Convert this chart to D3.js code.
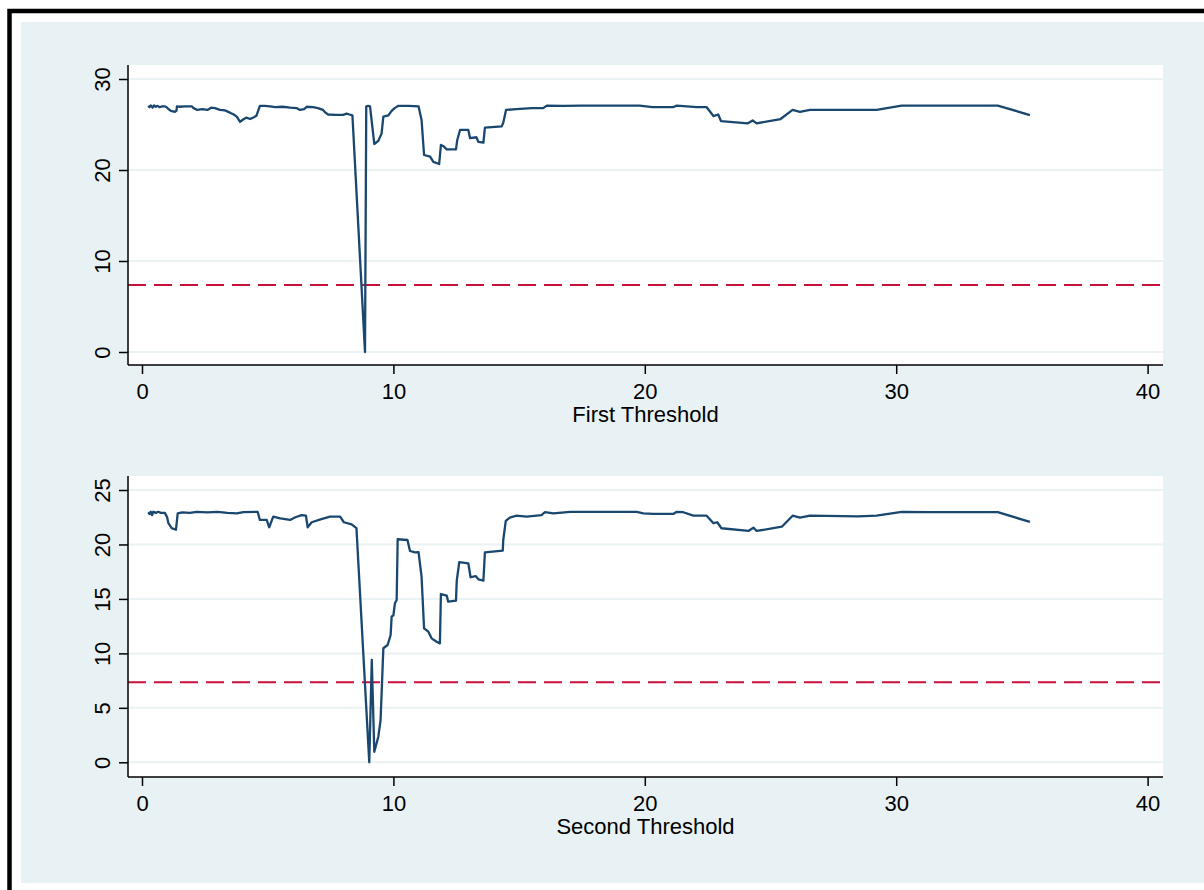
<!DOCTYPE html>
<html>
<head>
<meta charset="utf-8">
<script src="https://cdn.jsdelivr.net/npm/d3@7"></script>
<style>
  body { margin: 0; background: #ffffff; }
  text { font-family: Arial, "Liberation Sans", sans-serif; fill: #000; }
</style>
</head>
<body>
<div id="chart"></div>
<script>
// first panel: x, value
const firstX = [0.25, 0.3, 0.35, 0.42, 0.48, 0.55, 0.62, 0.7, 0.8, 0.9, 0.98, 1.05, 1.15, 1.31, 1.37, 1.39, 1.5, 1.7, 1.98,
  2.05, 2.2, 2.4, 2.6, 2.75, 2.9, 3.1, 3.3, 3.5, 3.65, 3.77, 3.9, 4.05, 4.15, 4.3, 4.45, 4.55, 4.69, 4.9, 5.09,
  5.3, 5.6, 5.9, 6.15, 6.28, 6.45, 6.55, 6.8, 7.0, 7.2, 7.3, 7.4, 7.7, 8.0, 8.14, 8.25, 8.37, 8.87, 8.92, 9.0,
  9.07, 9.24, 9.4, 9.53, 9.6, 9.8, 9.93, 10.05, 10.2, 10.6, 11.0, 11.12, 11.22, 11.46, 11.59, 11.82, 11.89, 12.0,
  12.12, 12.49, 12.54, 12.65, 12.98, 13.05, 13.3, 13.38, 13.58, 13.64, 14.31, 14.37, 14.48, 14.9, 15.5, 15.96,
  16.1, 16.75, 17.5, 19.8, 20.3, 21.12, 21.27, 21.67, 22.06, 22.46, 22.73, 22.92, 23.03, 24.1, 24.29, 24.45,
  25.4, 25.88, 26.17, 26.57, 29.22, 30.22, 34.04, 35.32];
const firstY = [27.07, 26.9, 27.1, 26.85, 27.1, 26.95, 27.05, 26.9, 27.0, 27.0, 26.9, 26.7, 26.5, 26.4, 26.5, 27.0, 26.95, 27.0, 27.0,
  26.8, 26.6, 26.7, 26.6, 26.85, 26.8, 26.6, 26.55, 26.3, 26.1, 25.86, 25.3, 25.6, 25.75, 25.6, 25.8, 25.95, 27.05, 27.05, 27.0,
  26.9, 26.95, 26.85, 26.8, 26.6, 26.7, 26.95, 26.9, 26.8, 26.6, 26.3, 26.1, 26.05, 26.05, 26.2, 26.1, 26.0, 0.0, 27.0, 27.05,
  27.0, 22.86, 23.2, 24.0, 25.86, 26.0, 26.5, 26.8, 27.05, 27.05, 27.0, 25.5, 21.65, 21.47, 20.9, 20.66, 22.75, 22.6,
  22.27, 22.27, 23.3, 24.4, 24.4, 23.5, 23.6, 23.1, 23.0, 24.65, 24.8, 25.2, 26.6, 26.7, 26.8, 26.8,
  27.07, 27.05, 27.07, 27.07, 26.9, 26.9, 27.07, 27.0, 26.9, 26.9, 25.93, 26.1, 25.38, 25.13, 25.45, 25.13,
  25.6, 26.6, 26.4, 26.6, 26.6, 27.07, 27.07, 26.04];

// second panel: x, value
const secondX = [0.25, 0.3, 0.35, 0.4, 0.45, 0.55, 0.65, 0.75, 0.91, 1.0, 1.05, 1.18, 1.35, 1.42, 1.6, 1.9, 2.18, 2.6, 3.0,
  3.4, 3.77, 4.03, 4.6, 4.69, 4.96, 5.06, 5.22, 5.5, 5.89, 6.1, 6.35, 6.52, 6.59, 6.75, 7.1, 7.48, 7.88, 8.03, 8.34,
  8.53, 9.04, 9.14, 9.24, 9.4, 9.49, 9.6, 9.77, 9.89, 9.93, 10.0, 10.06, 10.13, 10.17, 10.56, 10.66, 10.86, 11.0,
  11.12, 11.22, 11.39, 11.52, 11.72, 11.85, 11.89, 12.12, 12.18, 12.49, 12.52, 12.62, 12.98, 13.07, 13.27, 13.38,
  13.58, 13.64, 14.35, 14.37, 14.47, 14.63, 14.9, 15.3, 15.89, 16.03, 16.36, 17.03, 19.68, 19.94, 20.33, 21.13,
  21.27, 21.53, 21.93, 22.46, 22.73, 22.88, 23.05, 24.12, 24.32, 24.45, 25.45, 25.88, 26.17, 26.57, 28.49, 29.22,
  30.22, 31.34, 34.04, 35.32];
const secondY = [22.96, 22.8, 23.0, 22.7, 23.0, 22.9, 23.0, 22.9, 22.9, 22.5, 21.95, 21.5, 21.35, 22.86, 22.95, 22.9, 23.0, 22.95, 23.0,
  22.9, 22.85, 22.96, 23.0, 22.25, 22.25, 21.58, 22.55, 22.4, 22.25, 22.5, 22.7, 22.65, 21.58, 22.04, 22.3, 22.55, 22.55, 22.04, 21.85,
  21.5, 0.0, 9.4, 0.97, 2.35, 3.88, 10.47, 10.77, 11.69, 13.37, 13.5, 14.6, 14.9, 20.48, 20.41, 19.4, 19.28, 19.3,
  17.04, 12.3, 11.99, 11.38, 11.07, 10.92, 15.45, 15.3, 14.75, 14.84, 16.68, 18.37, 18.27, 16.99, 17.1, 16.8,
  16.68, 19.28, 19.43, 20.41, 22.16, 22.46, 22.64, 22.55, 22.7, 22.96, 22.86, 23.0, 23.0, 22.86, 22.8, 22.8,
  23.0, 22.96, 22.64, 22.64, 21.95, 22.04, 21.49, 21.24, 21.54, 21.24, 21.63, 22.64, 22.46, 22.64, 22.58, 22.64,
  23.0, 22.96, 22.96, 22.07];

const threshold = 7.35;
const xTicks = [0, 10, 20, 30, 40];
const firstTicks = [0, 10, 20, 30];
const secondTicks = [0, 5, 10, 15, 20, 25];
const titles = ["First Threshold", "Second Threshold"];

const bgColor = "#e8f1f3";
const gridColor = "#eaf2f3";
const lineColor = "#1a476f";
const refColor = "#c8103c";

const width = 1204;
const height = 890;

const svg = d3.select("#chart")
  .append("svg")
  .attr("width", width)
  .attr("height", height);

svg.append("rect").attr("width", width).attr("height", height).attr("fill", "#fff");
// outer bluish panel
svg.append("rect")
  .attr("x", 21).attr("y", 22)
  .attr("width", width - 21).attr("height", 861)
  .attr("fill", bgColor);
// black frame on left and top
svg.append("path")
  .attr("d", `M9.5,${height} V11 H${width}`)
  .attr("fill", "none")
  .attr("stroke", "#000")
  .attr("stroke-width", 4.5);

const xScale = d3.scaleLinear().domain([0, 40]).range([142, 1147.6]);

const panels = [
  { xs: firstX, ys: firstY, ticks: firstTicks, domain: [0, 30], range: [352, 79], top: 65, bottom: 365, title: titles[0] },
  { xs: secondX, ys: secondY, ticks: secondTicks, domain: [0, 25], range: [762.3, 490], top: 476, bottom: 777, title: titles[1] },
];

const plotLeft = 128;
const plotRight = 1163;

function drawPanel(p) {
  const yScale = d3.scaleLinear().domain(p.domain).range(p.range);
  const g = svg.append("g");

  g.append("rect")
    .attr("x", plotLeft).attr("y", p.top)
    .attr("width", plotRight - plotLeft).attr("height", p.bottom - p.top)
    .attr("fill", "#fff");

  // grid
  g.selectAll(".grid")
    .data(p.ticks)
    .join("line")
    .attr("x1", plotLeft).attr("x2", plotRight)
    .attr("y1", (d) => yScale(d)).attr("y2", (d) => yScale(d))
    .attr("stroke", gridColor)
    .attr("stroke-width", 2);

  // reference line
  g.append("line")
    .attr("x1", plotLeft).attr("x2", plotRight)
    .attr("y1", yScale(threshold)).attr("y2", yScale(threshold))
    .attr("stroke", refColor)
    .attr("stroke-width", 2)
    .attr("stroke-dasharray", "18 8");

  const pts = p.xs.map((x, i) => [x, p.ys[i]]);
  const line = d3.line()
    .x((d) => xScale(d[0]))
    .y((d) => yScale(d[1]));
  g.append("path")
    .datum(pts)
    .attr("d", line)
    .attr("fill", "none")
    .attr("stroke", lineColor)
    .attr("stroke-width", 2.3)
    .attr("stroke-linejoin", "round");

  // axes
  const yAxis = d3.axisLeft(yScale).tickValues(p.ticks).tickSize(9).tickSizeOuter(0).tickPadding(9);
  const ya = g.append("g").attr("transform", `translate(${plotLeft},0)`).call(yAxis);
  ya.select(".domain").attr("d", `M0,${p.top}V${p.bottom}`).attr("stroke-width", 1.5);
  ya.selectAll(".tick line").attr("stroke-width", 1.5);
  ya.selectAll(".tick text")
    .attr("font-size", 22)
    .attr("font-family", "Arial, 'Liberation Sans', sans-serif")
    .attr("x", null).attr("dy", null)
    .attr("text-anchor", "middle")
    .attr("transform", "translate(-18,0) rotate(-90)");

  const xAxis = d3.axisBottom(xScale).tickValues(xTicks).tickSize(9).tickSizeOuter(0).tickPadding(11);
  const xa = g.append("g").attr("transform", `translate(0,${p.bottom})`).call(xAxis);
  xa.select(".domain").attr("d", `M${plotLeft},0H${plotRight}`).attr("stroke-width", 1.5);
  xa.selectAll(".tick line").attr("stroke-width", 1.5);
  xa.selectAll(".tick text")
    .attr("font-size", 22)
    .attr("font-family", "Arial, 'Liberation Sans', sans-serif")
    .attr("dy", null)
    .attr("y", 34);

  g.append("text")
    .attr("x", (plotLeft + plotRight) / 2)
    .attr("y", p.bottom + 57)
    .attr("text-anchor", "middle")
    .attr("font-size", 22)
    .text(p.title);
}

panels.forEach(drawPanel);
</script>
</body>
</html>
